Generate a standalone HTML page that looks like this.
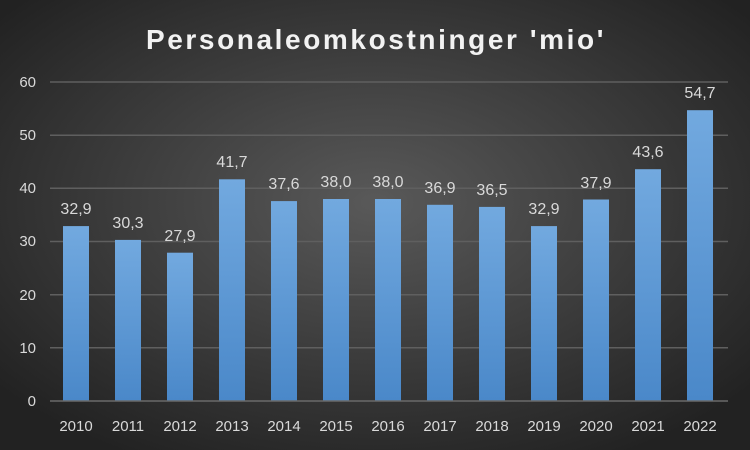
<!DOCTYPE html>
<html><head><meta charset="utf-8"><style>body{margin:0}svg{display:block}</style></head><body>
<svg width="750" height="450" xmlns="http://www.w3.org/2000/svg" font-family="Liberation Sans, sans-serif">
<defs>
<radialGradient id="bg" cx="50%" cy="45%" r="65%">
<stop offset="0" stop-color="#595959"/><stop offset="1" stop-color="#222"/>
</radialGradient>
<linearGradient id="bar" x1="0" y1="0" x2="0" y2="1">
<stop offset="0" stop-color="#72a9df"/><stop offset="1" stop-color="#4a88c9"/>
</linearGradient>
</defs>
<rect width="750" height="450" fill="url(#bg)"/>
<text x="376" y="49" text-anchor="middle" font-size="28" font-weight="bold" fill="#f2f2f2" letter-spacing="2.6">Personaleomkostninger 'mio'</text>
<g stroke="#5f5f5f" stroke-width="1.5">
<line x1="50" x2="728" y1="82" y2="82"/><line x1="50" x2="728" y1="135.2" y2="135.2"/>
<line x1="50" x2="728" y1="188.3" y2="188.3"/><line x1="50" x2="728" y1="241.5" y2="241.5"/>
<line x1="50" x2="728" y1="294.7" y2="294.7"/><line x1="50" x2="728" y1="347.8" y2="347.8"/>
</g>
<g fill="#d9d9d9" font-size="15" text-anchor="end">
<text x="36" y="87">60</text><text x="36" y="140">50</text><text x="36" y="193">40</text>
<text x="36" y="246">30</text><text x="36" y="300">20</text><text x="36" y="353">10</text><text x="36" y="406">0</text>
</g>
<g fill="url(#bar)">
<rect x="63" y="226.1" width="26" height="174.9"/>
<rect x="115" y="239.9" width="26" height="161.1"/>
<rect x="167" y="252.7" width="26" height="148.3"/>
<rect x="219" y="179.3" width="26" height="221.7"/>
<rect x="271" y="201.1" width="26" height="199.9"/>
<rect x="323" y="199" width="26" height="202"/>
<rect x="375" y="199" width="26" height="202"/>
<rect x="427" y="204.8" width="26" height="196.2"/>
<rect x="479" y="206.9" width="26" height="194.1"/>
<rect x="531" y="226.1" width="26" height="174.9"/>
<rect x="583" y="199.5" width="26" height="201.5"/>
<rect x="635" y="169.2" width="26" height="231.8"/>
<rect x="687" y="110.2" width="26" height="290.8"/>
</g>
<line x1="50" x2="728" y1="401" y2="401" stroke="#6a6a6a" stroke-width="1.5"/>
<g fill="#d9d9d9" font-size="16" text-anchor="middle">
<text x="76" y="214">32,9</text><text x="128" y="228">30,3</text><text x="180" y="241">27,9</text>
<text x="232" y="167">41,7</text><text x="284" y="189">37,6</text><text x="336" y="187">38,0</text>
<text x="388" y="187">38,0</text><text x="440" y="193">36,9</text><text x="492" y="195">36,5</text>
<text x="544" y="214">32,9</text><text x="596" y="188">37,9</text><text x="648" y="157">43,6</text>
<text x="700" y="98">54,7</text>
</g>
<g fill="#d9d9d9" font-size="15" text-anchor="middle">
<text x="76" y="431">2010</text><text x="128" y="431">2011</text><text x="180" y="431">2012</text>
<text x="232" y="431">2013</text><text x="284" y="431">2014</text><text x="336" y="431">2015</text>
<text x="388" y="431">2016</text><text x="440" y="431">2017</text><text x="492" y="431">2018</text>
<text x="544" y="431">2019</text><text x="596" y="431">2020</text><text x="648" y="431">2021</text>
<text x="700" y="431">2022</text>
</g>
</svg>
</body></html>
